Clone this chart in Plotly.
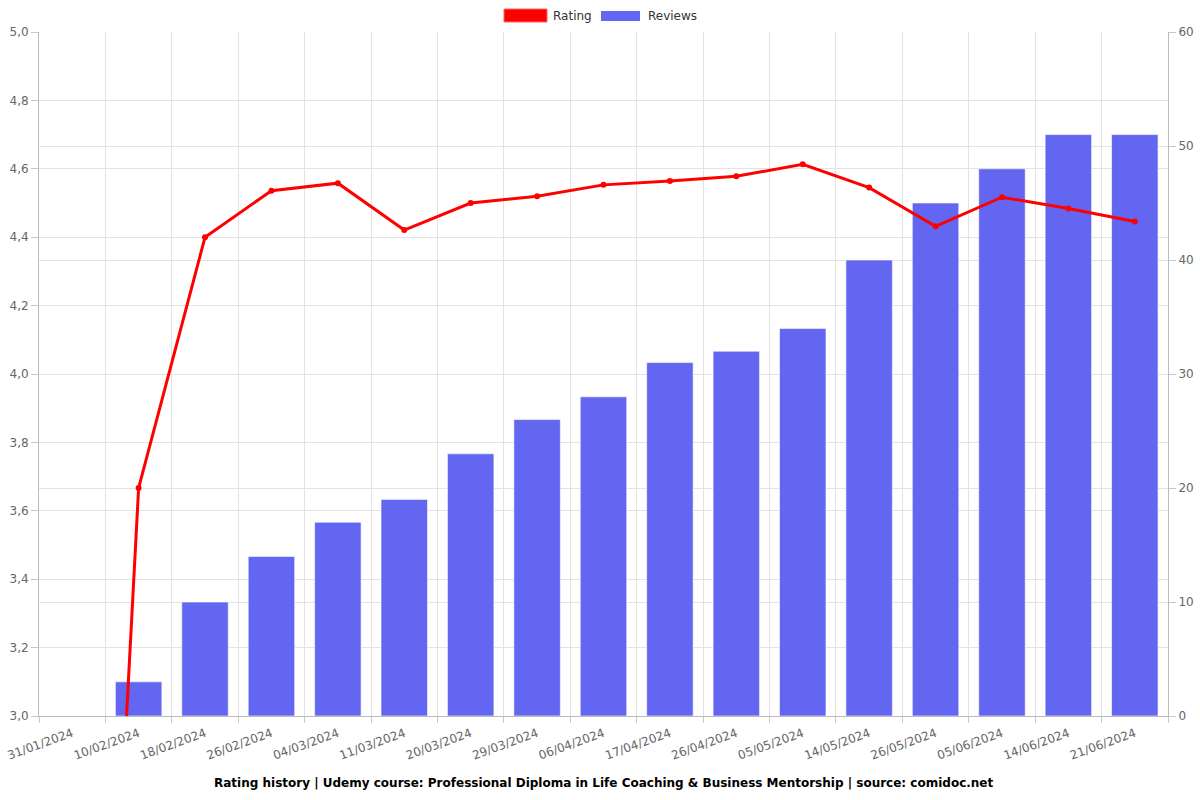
import plotly.graph_objects as go

dates = ["31/01/2024", "10/02/2024", "18/02/2024", "26/02/2024", "04/03/2024",
         "11/03/2024", "20/03/2024", "29/03/2024", "06/04/2024", "17/04/2024",
         "26/04/2024", "05/05/2024", "14/05/2024", "26/05/2024", "05/06/2024",
         "14/06/2024", "21/06/2024"]
rating = [0, 3.667, 4.40, 4.536, 4.558, 4.421, 4.50, 4.52, 4.553, 4.564,
          4.578, 4.613, 4.545, 4.432, 4.517, 4.484, 4.446]
reviews = [0, 3, 10, 14, 17, 19, 23, 26, 28, 31, 32, 34, 40, 45, 48, 51, 51]

title_text = ("Rating history | Udemy course: Professional Diploma in Life Coaching "
              "& Business Mentorship | source: comidoc.net")

RED = "#ff0000"
BLUE = "#6366f1"

fig = go.Figure()
fig.add_trace(go.Bar(
    x=dates, y=reviews, name="Reviews", yaxis="y",
    marker=dict(color=BLUE, line=dict(color="rgba(255,255,255,0.6)", width=1)),
))
fig.add_trace(go.Scatter(
    x=dates, y=rating, name="Rating", yaxis="y2", mode="lines+markers",
    line=dict(color=RED, width=3), marker=dict(color=RED, size=6),
    cliponaxis=True,
))

grid = "#e3e3e3"
tickc = "#c8c8c8"
tickfont = dict(family="DejaVu Sans", size=12, color="#666666")

# plot area in pixels: x 39..1168, y 32..716
L, R, T, B = 39, 1168, 32, 716
def px(x):
    return (x - L) / (R - L)
def py(y):
    return (B - y) / (B - T)

shapes = [
    dict(type="rect", xref="paper", yref="paper", x0=px(504), x1=px(547),
         y0=py(22), y1=py(9), fillcolor=RED, line=dict(color="#ff6666", width=1)),
    dict(type="rect", xref="paper", yref="paper", x0=px(601), x1=px(640),
         y0=py(21), y1=py(11), fillcolor=BLUE, line=dict(width=0)),
]
annotations = [
    dict(text="Rating", xref="paper", yref="paper", x=px(551), y=py(16),
         xanchor="left", yanchor="middle", showarrow=False,
         font=dict(size=12, color="#333333")),
    dict(text="Reviews", xref="paper", yref="paper", x=px(646), y=py(16),
         xanchor="left", yanchor="middle", showarrow=False,
         font=dict(size=12, color="#333333")),
    dict(text="<b>" + title_text + "</b>", x=0.5, xref="paper",
         y=0, yref="paper", yanchor="middle", yshift=-67,
         showarrow=False, font=dict(size=12, color="#000000")),
]

fig.update_layout(
    width=1200, height=800,
    margin=dict(l=L, r=1200 - R, t=T, b=800 - B, autoexpand=False),
    plot_bgcolor="white", paper_bgcolor="white",
    separators=",.",
    bargap=0.3,
    font=dict(family="DejaVu Sans", size=12, color="#666666"),
    showlegend=False,
    xaxis=dict(type="category", tickson="boundaries", tickangle=-20,
               range=[-0.5, len(dates) - 0.5], automargin=False,
               showgrid=True, gridcolor=grid, showline=True, linecolor="#bbbbbb",
               ticks="outside", ticklen=6, tickcolor=tickc, tickfont=tickfont,
               ticklabelstandoff=5),
    yaxis=dict(side="right", range=[0, 60], dtick=10, showgrid=True, gridcolor=grid,
               showline=True, linecolor="#bbbbbb", ticks="outside", ticklen=7,
               tickcolor=tickc, tickfont=tickfont, zeroline=False, automargin=False),
    yaxis2=dict(side="left", overlaying="y", range=[3, 5], dtick=0.2, tickformat=".1f",
                showgrid=True, gridcolor=grid, showline=True, linecolor="#bbbbbb",
                ticks="outside", ticklen=7, tickcolor=tickc, tickfont=tickfont,
                zeroline=False, automargin=False),
    shapes=shapes,
    annotations=annotations,
)
fig.write_html("out.html")
